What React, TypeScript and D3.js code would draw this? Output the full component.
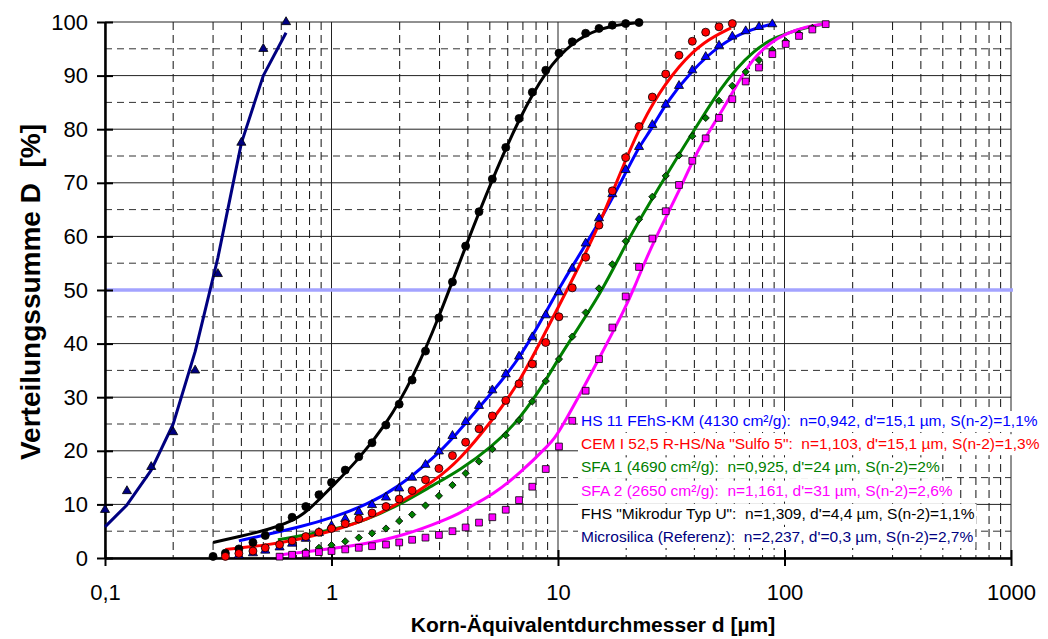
import React, { useEffect, useRef } from 'react';
import * as d3 from 'd3';

const _ = null;

// size classes of the measurement [µm]
const classSizes = [
  0.3, 0.34, 0.39, 0.45, 0.51, 0.59, 0.67, 0.77, 0.88, 1.0, 1.15, 1.32, 1.51, 1.74, 1.99, 2.27,
  2.6, 2.98, 3.42, 3.91, 4.48, 5.13, 5.88, 6.73, 7.7, 8.83, 10.1, 11.56, 13.25, 15.17, 17.37,
  19.9, 22.79, 26.09, 29.89, 34.21, 39.17, 44.88, 51.38, 58.83, 67.41, 77.17, 88.35, 101.2,
  115.9, 132.7, 152.0,
];

// measured cumulative distribution D [%] per class
const fhsMeasured = [
  0.3, 0.9, 1.7, 2.9, 4.2, 5.7, 7.6, 9.6, 11.8, 14.1, 16.4, 18.9, 21.5, 24.8, 28.7, 33.2, 38.6,
  44.8, 51.5, 58.2, 64.6, 70.7, 76.6, 82.0, 86.9, 91.0, 94.2, 96.3, 97.9, 98.8, 99.4, 99.7, 99.9,
  _, _, _, _, _, _, _, _, _, _, _, _, _, _,
];
const hsMeasured = [
  _, _, 0.5, 0.9, 1.4, 2.0, 2.7, 3.6, 4.7, 6.0, 7.3, 8.6, 9.9, 11.3, 13.0, 15.0, 17.4, 19.9,
  22.8, 25.4, 28.4, 31.3, 34.3, 37.6, 41.2, 45.3, 49.6, 54.0, 58.7, 63.4, 67.9, 72.4, 76.7,
  80.8, 84.6, 88.1, 91.0, 93.5, 95.6, 97.3, 98.3, 99.1, 99.6, _, _, _, _,
];
const cemMeasured = [
  _, 0.3, 0.85, 1.3, 1.9, 2.5, 3.2, 4.0, 4.8, 5.5, 6.4, 7.3, 8.4, 9.6, 11.0, 12.6, 14.6, 16.7,
  19.1, 21.6, 24.1, 26.5, 29.4, 32.5, 36.2, 40.2, 45.0, 50.4, 56.1, 62.1, 68.5, 74.7, 80.5,
  86.0, 90.3, 93.8, 96.4, 98.1, 99.1, 99.7, _, _, _, _, _, _, _,
];
const sfa1Measured = [
  _, _, _, _, _, _, _, 1.2, 1.9, 2.4, 3.1, 3.8, 4.6, 5.5, 6.9, 8.1, 9.8, 11.6, 13.6, 15.8, 18.0,
  20.3, 22.9, 25.7, 29.2, 33.0, 37.1, 41.3, 45.8, 50.3, 54.8, 59.1, 63.2, 67.4, 71.3, 75.1,
  78.7, 82.1, 85.3, 88.1, 90.7, 92.9, 94.8, 96.4, 97.8, 98.9, _,
];
const sfa2Measured = [
  _, _, _, _, _, 0.25, 0.6, 0.8, 1.1, 1.3, 1.6, 1.9, 2.2, 2.5, 2.9, 3.4, 3.8, 4.3, 5.0, 5.7,
  6.6, 7.6, 9.0, 10.8, 13.3, 16.6, 20.8, 25.6, 31.2, 37.1, 43.0, 48.8, 54.3, 59.6, 64.7, 69.6,
  74.1, 78.3, 82.1, 85.6, 88.9, 91.5, 94.0, 95.9, 97.4, 98.6, 99.6,
];
const silicaSizes = [0.1, 0.125, 0.16, 0.2, 0.25, 0.315, 0.4, 0.5, 0.63];
const silicaMeasured = [9, 12.5, 17, 23.5, 35, 53, 77.5, 95, 100];

// RRSB fit curves
const fhsFitD = [0.3, 0.39, 0.52, 0.73, 0.89, 1.02, 1.29, 1.74, 2.27, 2.98, 3.91, 5.13, 6.73, 8.83, 11.56, 15.17, 19.9, 22.8];
const fhsFitV = [2.9, 4.0, 5.2, 7.4, 11.1, 13.6, 18, 24.8, 33.2, 44.8, 58.2, 70.7, 82, 91, 96.3, 98.8, 99.7, 99.9];
const hsFitD = [0.39, 0.52, 0.73, 1.02, 1.43, 1.99, 2.81, 3.45, 5.13, 6.72, 9.22, 10.1, 15.2, 19.9, 22.8, 26.1, 29.7, 39.2, 51.9, 67.9, 87.7];
const hsFitV = [3.2, 4.4, 5.8, 7.6, 9.9, 13.3, 18.6, 22.4, 31, 36.9, 47.2, 50.4, 62.5, 71.8, 76.8, 80.2, 84.7, 91.1, 95.8, 98.4, 99.6];
const cemFitD = [0.34, 0.52, 0.73, 1.02, 1.43, 1.99, 2.81, 3.69, 5.13, 6.72, 9.22, 10.96, 15.2, 20.9, 26.3, 34.3, 44.1, 58.1];
const cemFitV = [1.6, 2.4, 3.5, 5.1, 7.1, 10.2, 14.2, 18.3, 25.7, 32.5, 43.8, 50, 61.8, 76.8, 85.2, 92, 96.4, 98.9];
const sfa1FitD = [0.58, 1.02, 1.43, 1.99, 2.81, 3.69, 5.13, 6.72, 8.83, 10.1, 15.85, 19.9, 26.1, 35.6, 44.1, 51.9, 61.5, 72.8, 86.3, 102.3, 125.4, 148.4];
const sfa1FitV = [3.4, 5.2, 7.1, 9.9, 13.6, 16.4, 20.8, 25.7, 33, 37.5, 50, 58.7, 67.1, 76.5, 82.7, 87.4, 91.4, 94.5, 96.7, 97.9, 99.0, 99.6];
const sfa2FitD = [0.59, 0.73, 1.02, 1.43, 1.99, 2.81, 3.69, 4.26, 5.13, 6.72, 9.22, 10.1, 15.2, 19.9, 21.5, 26.1, 34.2, 41.6, 51.9, 61.5, 72.8, 86.3, 102.3, 125.4, 148.4];
const sfa2FitV = [0.6, 1.0, 1.8, 2.7, 4.0, 6.2, 8.3, 10.0, 11.8, 15.6, 21.3, 23.3, 37.2, 46.8, 50, 58.7, 68.3, 76.5, 82.7, 88.3, 93.3, 96.1, 97.9, 99.2, 99.6];
const silicaFitV = [5.8, 9.9, 16.4, 25, 38.5, 56, 77.4, 90, 98];

const xTickValues = [0.1, 1, 10, 100, 1000];

const legendLines = [
  { text: 'HS 11 FEhS-KM (4130 cm²/g):  n=0,942, d\'=15,1 µm, S(n-2)=1,1%', color: '#0000ff' },
  { text: 'CEM I 52,5 R-HS/Na "Sulfo 5":  n=1,103, d\'=15,1 µm, S(n-2)=1,3%', color: '#ff0000' },
  { text: 'SFA 1 (4690 cm²/g):  n=0,925, d\'=24 µm, S(n-2)=2%', color: '#008000' },
  { text: 'SFA 2 (2650 cm²/g):  n=1,161, d\'=31 µm, S(n-2)=2,6%', color: '#ff00ff' },
  { text: 'FHS "Mikrodur Typ U":  n=1,309, d\'=4,4 µm, S(n-2)=1,1%', color: '#000000' },
  { text: 'Microsilica (Referenz):  n=2,237, d\'=0,3 µm, S(n-2)=2,7%', color: '#000080' },
];

const FONT = 'Arial, "Liberation Sans", sans-serif';

function zip(xs: number[], ys: (number | null)[]) {
  return xs.map((d, i) => [d, ys[i]]).filter((p) => p[1] !== null) as [number, number][];
}

function drawChart(el: SVGSVGElement) {
  const svg = d3.select(el);
  svg.selectAll('*').remove();

  const x = d3.scaleLog().domain([0.1, 1000]).range([105, 1011]);
  const y = d3.scaleLinear().domain([0, 100]).range([558, 22]);

  // grid
  const grid = svg.append('g');
  x.ticks().forEach((v) => {
    const lg = Math.log10(v);
    const decade = Math.abs(lg - Math.round(lg)) < 1e-6;
    grid
      .append('line')
      .attr('x1', x(v))
      .attr('x2', x(v))
      .attr('y1', y(100))
      .attr('y2', y(0))
      .attr('stroke', decade ? '#222' : '#111')
      .attr('stroke-width', 1)
      .attr('stroke-dasharray', decade ? null : '8,5');
  });
  y.ticks(20).forEach((v) => {
    const major = v % 10 === 0;
    grid
      .append('line')
      .attr('x1', x(0.1))
      .attr('x2', x(1000))
      .attr('y1', y(v))
      .attr('y2', y(v))
      .attr('stroke', major ? '#222' : '#333')
      .attr('stroke-width', 1)
      .attr('stroke-dasharray', major ? null : '7,5');
  });

  // 50 % line
  svg
    .append('line')
    .attr('x1', x(0.1))
    .attr('x2', x(1000) + 2)
    .attr('y1', y(50))
    .attr('y2', y(50))
    .attr('stroke', '#a3a3ff')
    .attr('stroke-width', 3.5);

  // axes
  const yAxis = svg
    .append('g')
    .attr('transform', `translate(${x(0.1)},0)`)
    .call(d3.axisLeft(y).ticks(10).tickSize(8).tickSizeOuter(0).tickFormat((d) => String(d)));
  yAxis.select('.domain').attr('stroke-width', 2.5);
  yAxis.selectAll('.tick line').attr('x1', -8).attr('x2', 8).attr('stroke-width', 2);
  yAxis
    .selectAll('.tick text')
    .attr('x', -17)
    .attr('font-size', 22)
    .attr('font-family', FONT)
    .attr('fill', '#000');

  const xAxis = svg
    .append('g')
    .attr('transform', `translate(0,${y(0)})`)
    .call(
      d3
        .axisBottom(x)
        .tickValues(xTickValues)
        .tickSize(8)
        .tickSizeOuter(0)
        .tickFormat((d) => String(d).replace('.', ',')),
    );
  xAxis.select('.domain').attr('stroke-width', 2.5);
  xAxis.selectAll('.tick line').attr('y1', -8).attr('y2', 8).attr('stroke-width', 2);
  xAxis
    .selectAll('.tick text')
    .attr('y', 42)
    .attr('dy', 0)
    .attr('font-size', 22)
    .attr('font-family', FONT)
    .attr('fill', '#000');

  // titles
  svg
    .append('text')
    .attr('x', 593)
    .attr('y', 632)
    .attr('text-anchor', 'middle')
    .attr('font-family', FONT)
    .attr('font-weight', 'bold')
    .attr('font-size', 21)
    .text('Korn-Äquivalentdurchmesser d [µm]');
  svg
    .append('text')
    .attr('transform', 'translate(40,292) rotate(-90)')
    .attr('text-anchor', 'middle')
    .attr('font-family', FONT)
    .attr('font-weight', 'bold')
    .attr('font-size', 28)
    .style('white-space', 'pre')
    .text('Verteilungssumme D  [%]');

  // fit curves
  const smooth = d3
    .line<[number, number]>()
    .x((d) => x(d[0]))
    .y((d) => y(d[1]))
    .curve(d3.curveBasis);
  const poly = d3
    .line<[number, number]>()
    .x((d) => x(d[0]))
    .y((d) => y(d[1]));

  const fits: [[number, number][], string, any][] = [
    [zip(silicaSizes, silicaFitV), '#000080', poly],
    [zip(fhsFitD, fhsFitV), '#000000', smooth],
    [zip(hsFitD, hsFitV), '#0000ff', smooth],
    [zip(sfa1FitD, sfa1FitV), '#008000', smooth],
    [zip(cemFitD, cemFitV), '#ff0000', smooth],
    [zip(sfa2FitD, sfa2FitV), '#ff00ff', smooth],
  ];
  fits.forEach(([pts, color, gen]) => {
    svg
      .append('path')
      .datum(pts)
      .attr('fill', 'none')
      .attr('stroke', color)
      .attr('stroke-width', 3)
      .attr('stroke-linejoin', 'round')
      .attr('d', gen);
  });

  // measured points
  const tri = d3.symbol(d3.symbolTriangle, 36)();
  const sq = d3.symbol(d3.symbolSquare, 46)();
  const dia = d3.symbol(d3.symbolSquare, 26)();
  const marks: [[number, number][], string, string, number][] = [
    [zip(classSizes, fhsMeasured), '#000000', 'circle', 0],
    [zip(classSizes, hsMeasured), '#0000ff', tri as string, 0],
    [zip(classSizes, cemMeasured), '#ff0000', 'circle', 0],
    [zip(classSizes, sfa1Measured), '#008000', dia as string, 45],
    [zip(classSizes, sfa2Measured), '#ff00ff', sq as string, 0],
    [zip(silicaSizes, silicaMeasured), '#000080', tri as string, 0],
  ];
  marks.forEach(([pts, color, shape, rot]) => {
    const g = svg.append('g');
    pts.forEach((p) => {
      if (shape === 'circle') {
        g.append('circle')
          .attr('cx', x(p[0]))
          .attr('cy', y(p[1]))
          .attr('r', 4)
          .attr('fill', color)
          .attr('stroke', '#000')
          .attr('stroke-width', 0.8);
      } else {
        g.append('path')
          .attr('d', shape)
          .attr('transform', `translate(${x(p[0])},${y(p[1])}) rotate(${rot})`)
          .attr('fill', color)
          .attr('stroke', '#000')
          .attr('stroke-width', 0.8);
      }
    });
  });

  // legend text boxes
  const legend = svg.append('g');
  legendLines.forEach((l, i) => {
    const by = 426 + i * 23.2;
    const rect = legend.append('rect').attr('fill', '#fff');
    const t = legend
      .append('text')
      .attr('x', 581)
      .attr('y', by)
      .attr('font-family', FONT)
      .attr('font-size', 15.5)
      .attr('fill', l.color)
      .style('white-space', 'pre')
      .text(l.text);
    const w = (t.node() as SVGTextElement).getComputedTextLength();
    rect
      .attr('x', 578)
      .attr('y', by - 15)
      .attr('width', w + 5)
      .attr('height', 21);
  });
}

export default function App() {
  const ref = useRef<SVGSVGElement>(null);
  useEffect(() => {
    if (ref.current) drawChart(ref.current);
  }, []);
  return (
    <svg
      ref={ref}
      width={1048}
      height={639}
      style={{ position: 'absolute', left: 0, top: 0, background: '#fff' }}
    />
  );
}
